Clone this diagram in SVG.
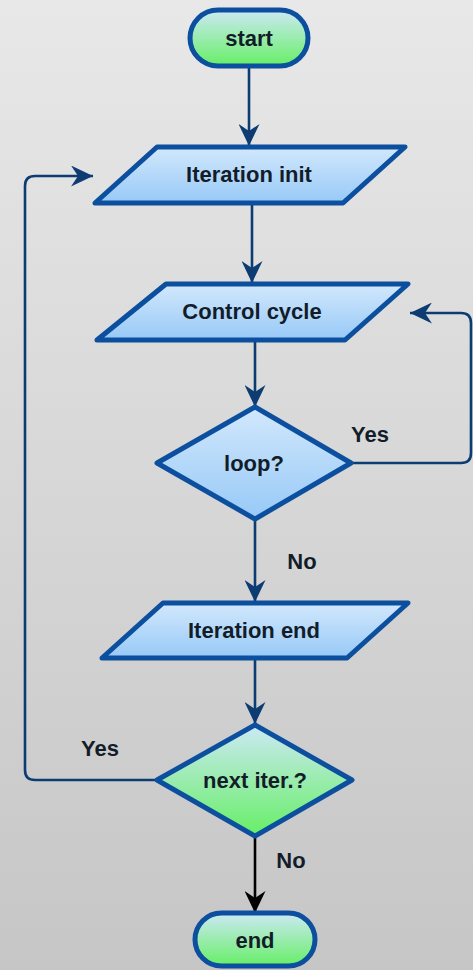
<svg xmlns="http://www.w3.org/2000/svg" width="473" height="970" viewBox="0 0 473 970">
  <defs>
    <linearGradient id="bg" x1="0" y1="0" x2="0" y2="1">
      <stop offset="0" stop-color="#e8e8e8"/>
      <stop offset="1" stop-color="#c6c6c6"/>
    </linearGradient>
    <linearGradient id="blueFill" x1="0" y1="0" x2="0" y2="1">
      <stop offset="0" stop-color="#d2e8fc"/>
      <stop offset="1" stop-color="#97c9f7"/>
    </linearGradient>
    <linearGradient id="greenFill" x1="0" y1="0" x2="0" y2="1">
      <stop offset="0" stop-color="#cde9f5"/>
      <stop offset="1" stop-color="#66ef66"/>
    </linearGradient>
    <marker id="arrow" viewBox="0 0 22 21" markerWidth="22" markerHeight="21" refX="22" refY="10.5" orient="auto" markerUnits="userSpaceOnUse">
      <path d="M0,0 L22,10.5 L0,21 L7,10.5 Z" fill="#0d3c73"/>
    </marker>
    <marker id="arrowBlack" viewBox="0 0 22 21" markerWidth="22" markerHeight="21" refX="22" refY="10.5" orient="auto" markerUnits="userSpaceOnUse">
      <path d="M0,0 L22,10.5 L0,21 L7,10.5 Z" fill="#000000"/>
    </marker>
    <style>
      .shape { stroke: #0b4f9e; stroke-width: 5; stroke-linejoin: round; }
      .blue { fill: url(#blueFill); }
      .green { fill: url(#greenFill); }
      .label { font-family: "Liberation Sans", Arial, sans-serif; font-weight: bold; font-size: 22px; fill: #131d2a; text-anchor: middle; }
      .edge { fill: none; stroke: #0d3c73; stroke-width: 2.6; marker-end: url(#arrow); }
      .edge.black { stroke: #000000; marker-end: url(#arrowBlack); }
    </style>
  </defs>

  <rect x="0" y="0" width="473" height="970" fill="url(#bg)"/>

  <!-- connectors -->
  <g id="connectors">
    <path class="edge" d="M249,66 V146"/>
    <path class="edge" d="M252,205 V283"/>
    <path class="edge" d="M255,341 V407"/>
    <path class="edge" d="M351,463 H461 Q471,463 471,453 V323 Q471,313 461,313 H410"/>
    <path class="edge" d="M255,519 V602"/>
    <path class="edge" d="M255,658 V724"/>
    <path class="edge" d="M157,780 H35 Q25,780 25,770 V186 Q25,176 35,176 H93"/>
    <path class="edge black" d="M255,836 V913"/>
    <text class="label" x="370" y="442">Yes</text>
    <text class="label" x="302" y="569">No</text>
    <text class="label" x="100" y="756">Yes</text>
    <text class="label" x="291" y="868">No</text>
  </g>

  <g id="start">
    <rect class="shape green" x="190" y="10" width="118" height="56" rx="28" ry="28"/>
    <text class="label" x="249" y="46">start</text>
  </g>

  <g id="iteration-init">
    <polygon class="shape blue" points="157,147 405,147 343,203 95,203"/>
    <text class="label" x="249" y="182">Iteration init</text>
  </g>

  <g id="control-cycle">
    <polygon class="shape blue" points="166,284 408,284 345,340 97,340"/>
    <text class="label" x="252" y="319">Control cycle</text>
  </g>

  <g id="loop">
    <polygon class="shape blue" points="255,407 351,463 255,519 157,463"/>
    <text class="label" x="254" y="471">loop?</text>
  </g>

  <g id="iteration-end">
    <polygon class="shape blue" points="163,603 408,603 347,658 102,658"/>
    <text class="label" x="254" y="638">Iteration end</text>
  </g>

  <g id="next-iter">
    <polygon class="shape green" points="255,725 352,780 255,836 157,780"/>
    <text class="label" x="255" y="788">next iter.?</text>
  </g>

  <g id="end">
    <rect class="shape green" x="195" y="913" width="120" height="53" rx="26.5" ry="26.5"/>
    <text class="label" x="255" y="948">end</text>
  </g>
</svg>
